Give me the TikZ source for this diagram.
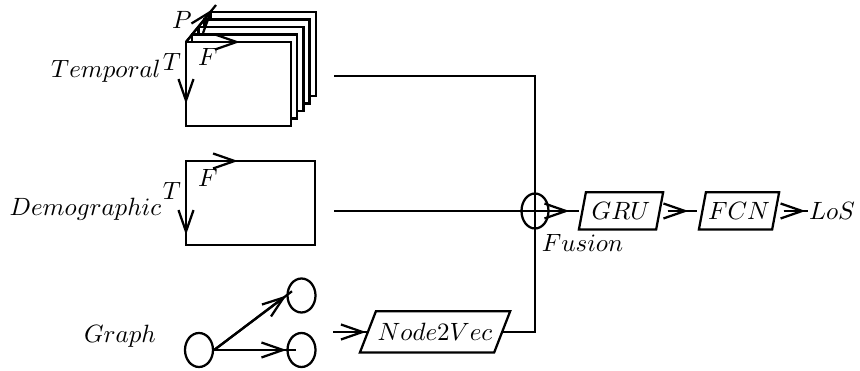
\documentclass[tikz,border=0pt]{standalone}
\usetikzlibrary{arrows.meta,shapes.geometric,calc}
\begin{document}
\begin{tikzpicture}[x=0.4pt,y=-0.4pt, line width=0.9pt,
  arr/.style={-{Straight Barb[length=8.6pt,width=6pt]}},
  lbl/.style={anchor=base, inner sep=0pt},
  blob/.style={draw, ellipse, minimum width=11.2pt, minimum height=13.6pt, inner sep=0pt},
  slot/.style={inner sep=0pt, minimum height=14pt}]
\useasboundingbox (0,0) rectangle (860,371);

% ---- temporal stack
\foreach \k in {4,3,2,1,0}
  \draw[fill=white] ({186+6.2*\k},{42-7.5*\k}) rectangle ({291+6.2*\k},{126-7.5*\k});
\coordinate (tc) at (186,42);
\coordinate (tF) at (240,42);
\coordinate (tT) at (186,104);
\coordinate (tPend) at (216,5);
\coordinate (tPtip) at (213,9);
\draw[arr] (tc) -- (tF);
\draw[arr] (tc) -- (tT);
\draw (tc) -- (tPend);
\draw[arr] (tc) -- (tPtip);
\node[lbl] (lP) at (182,29) {$P$};
\node[lbl] (lT1) at (172,71) {$T$};
\node[lbl] (lF1) at (208,66) {$F$};
\node[lbl] (ltemp) at (106,78) {$Temporal$};

% ---- demographic box
\draw (186,161) rectangle (315,245);
\coordinate (dc) at (186,161);
\coordinate (dF) at (238,161);
\coordinate (dT) at (186,235);
\draw[arr] (dc) -- (dF);
\draw[arr] (dc) -- (dT);
\node[lbl] (lT2) at (172,200) {$T$};
\node[lbl] (lF2) at (208,187) {$F$};
\node[lbl] (ldemo) at (85.5,216) {$Demographic$};

% ---- graph
\node[blob] (g0) at (199,350) {};
\node[blob] (g1) at (301.5,295.5) {};
\node[blob] (g2) at (301.5,350) {};
\draw[shorten >=-4pt] (g0.east) -- (g2.west);
\draw[arr] (g0.east) -- (g2.west);
\draw[shorten >=-2.8pt] (g0.east) -- (g1.west);
\draw[arr] (g0.east) -- (g1.west);
\node[lbl] (lgraph) at (120,343) {$Graph$};

% ---- Node2Vec
\node[slot, minimum width=52.8pt, minimum height=15.6pt] (n2v) at (435,332) {$Node2Vec$};
\draw ([xshift=-3.2pt]n2v.south west) -- ([xshift=3.2pt]n2v.north west) -- ([xshift=3.2pt]n2v.north east) -- ([xshift=-3.2pt]n2v.south east) -- cycle;
\coordinate (gin) at (333,332);
\draw (gin) -- (n2v.west);
\draw[arr, shorten >=0.8pt] (gin) -- (n2v.west);

% ---- fusion, GRU, FCN, LoS
\node[draw, ellipse, minimum width=10.8pt, minimum height=14pt, inner sep=0pt] (fus) at (535,211) {};
\node[lbl] (lfus) at (582.5,252) {$Fusion$};
\node[slot, minimum width=30pt] (gru) at (621,211) {$GRU$};
\draw ([xshift=-1.4pt]gru.south west) -- ([xshift=1.4pt]gru.north west) -- ([xshift=1.4pt]gru.north east) -- ([xshift=-1.4pt]gru.south east) -- cycle;
\node[slot, minimum width=28.4pt] (fcn) at (739,211) {$FCN$};
\draw ([xshift=-1.4pt]fcn.south west) -- ([xshift=1.4pt]fcn.north west) -- ([xshift=1.4pt]fcn.north east) -- ([xshift=-1.4pt]fcn.south east) -- cycle;
\node[anchor=west, inner sep=0pt] (los) at (808,211) {$LoS$};

\coordinate (tout) at (334,76);
\coordinate (dout) at (334,211);
\draw (tout) -| (fus.center) |- (n2v.east);
\draw (dout) -- ([xshift=-1.4pt]gru.west);
\draw[arr, shorten >=5.2pt] (fus.center) -- (gru.west);
\draw[shorten <=3.2pt, shorten >=2pt] (gru.east) -- (fcn.west);
\draw[arr, shorten <=3.2pt, shorten >=5.6pt] (gru.east) -- (fcn.west);
\draw[shorten <=3.2pt] (fcn.east) -- (los.west);
\draw[arr, shorten <=3.2pt, shorten >=1pt] (fcn.east) -- (los.west);
\end{tikzpicture}
\end{document}
